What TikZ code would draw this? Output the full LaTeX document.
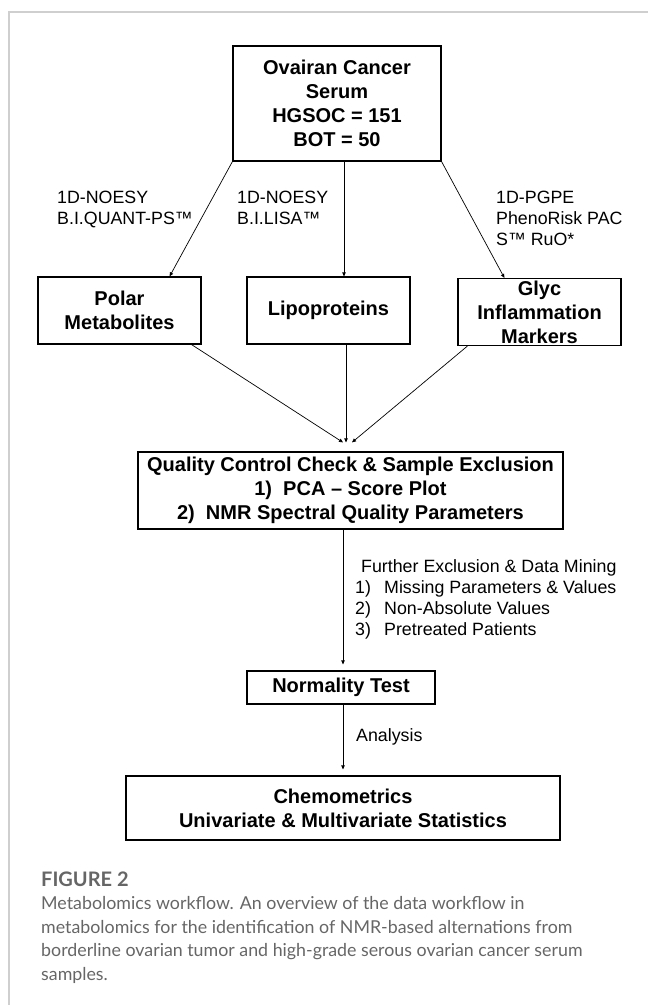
\documentclass[tikz,border=0pt]{standalone}
\usepackage{fontspec}
\setmainfont{Liberation Sans}
\newfontfamily\capfont{Lato}
\usetikzlibrary{arrows.meta,calc,positioning}
\definecolor{FrameGray}{HTML}{CFCFCF}
\definecolor{CapGray}{HTML}{666666}

\begin{document}
\begin{tikzpicture}[x=1pt,y=-1pt,
  box/.style={draw,line width=1.2pt,inner sep=0pt,align=center,font=\fontsize{20}{24}\selectfont\bfseries},
  lbl/.style={inner sep=0pt,anchor=north west,align=left,font=\fontsize{17.8}{21}\selectfont},
  flow/.style={-{Triangle[length=4pt,width=3.5pt]},line width=.7pt}]
  \useasboundingbox (0,0) rectangle (648,1005);
  \draw[FrameGray,line width=1.2pt] (9,1005)--(9,12)--(648,12);

  % boxes
  \node[box,minimum width=208pt,minimum height=115pt] (serum) at (337,103.5) {Ovairan Cancer\\Serum\\HGSOC = 151\\BOT = 50};
  \node[box,minimum width=163pt,minimum height=67pt] (polar) at (119.5,310.5) {Polar\\Metabolites};
  \node[box,minimum width=163pt,minimum height=67pt] (lipo) at (328.5,310.5) {Lipoproteins};
  \node[box,minimum width=163pt,minimum height=67pt] (glyc) at (539.5,312) {Glyc\\Inflammation\\Markers};
  \node[box,minimum width=425pt,minimum height=77pt] (qc) at (350.5,490.5) {Quality Control Check \& Sample Exclusion\\1)\ \ PCA -- Score Plot\\2)\ \ NMR Spectral Quality Parameters};
  \node[box,minimum width=188pt,minimum height=33pt] (norm) at (341,687.5) {Normality Test};
  \node[box,minimum width=434pt,minimum height=64pt] (chemo) at (343,808) {Chemometrics\\Univariate \& Multivariate Statistics};

  % connectors
  \draw[flow] (serum.south west) -- ([xshift=-32pt]polar.north east);
  \draw[flow] ([xshift=7pt]serum.south) -- ([xshift=15.5pt]lipo.north);
  \draw[flow] (serum.south east) -- ([xshift=47pt]glyc.north west);
  \draw[flow] ([xshift=-10pt]polar.south east) -- ([xshift=-7.5pt,yshift=9pt]qc.north);
  \draw[flow] ([xshift=17.5pt]lipo.south) -- ([xshift=-4.5pt,yshift=9pt]qc.north);
  \draw[flow] ([xshift=10pt]glyc.south west) -- ([xshift=1.5pt,yshift=9pt]qc.north);
  \draw[flow] ([xshift=-7.5pt]qc.south) -- ([xshift=2pt,yshift=6pt]norm.north);
  \draw[flow] ([xshift=2pt]norm.south) -- ([yshift=6pt]chemo.north);

  % labels
  \node[lbl] (noesyA) at (57,190.5) {1D-NOESY\\B.I.QUANT-PS™};
  \node[lbl] (noesyB) at (237,190.5) {1D-NOESY\\B.I.LISA™};
  \node[lbl] (pgpe) at (496,190.5) {1D-PGPE\\PhenoRisk PAC\\S™ RuO*};
  \node[lbl] (further) at (355,559.5) {\hspace*{6pt}Further Exclusion \& Data Mining\\
    \makebox[29pt][l]{1)}Missing Parameters \& Values\\
    \makebox[29pt][l]{2)}Non-Absolute Values\\
    \makebox[29pt][l]{3)}Pretreated Patients};
  \node[lbl] (analysis) at (356,728.5) {Analysis};

  % caption
  \node[anchor=west,inner sep=0pt,text=CapGray,font=\capfont\fontsize{20}{22}\selectfont\bfseries] (fig) at (41,879) {FIGURE 2};
  \node[anchor=north west,inner sep=0pt,align=left,text=CapGray,font=\capfont\fontsize{17.8}{23.7}\selectfont] (caption) at (41,896) {Metabolomics workflow. An overview of the data workflow in\\
    metabolomics for the identification of NMR-based alternations from\\
    borderline ovarian tumor and high-grade serous ovarian cancer serum\\
    samples.};
\end{tikzpicture}
\end{document}
